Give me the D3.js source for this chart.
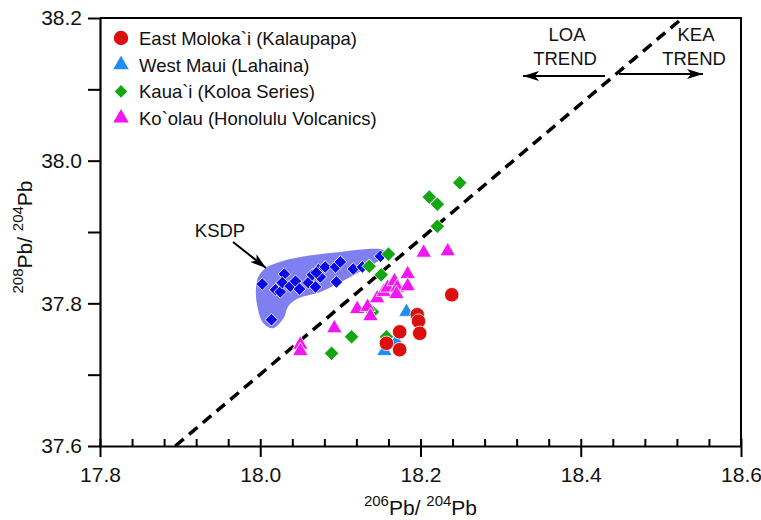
<!DOCTYPE html>
<html>
<head>
<meta charset="utf-8">
<script src="https://cdn.jsdelivr.net/npm/d3@7"></script>
<style>
  body { margin: 0; background: #fff; }
  svg text { font-family: "Liberation Sans", Arial, sans-serif; fill: #111; }
</style>
</head>
<body>
<div id="chart"></div>
<script>
// series: [206Pb/204Pb, 208Pb/204Pb]
const ksdp = [
    [18.0025, 37.827], [18.014, 37.777], [18.019, 37.819], [18.025, 37.816], [18.030, 37.841],
    [18.0275, 37.829], [18.0375, 37.824], [18.044, 37.831], [18.049, 37.820], [18.060, 37.829],
    [18.065, 37.840], [18.069, 37.823], [18.0725, 37.847], [18.075, 37.837], [18.070, 37.843],
    [18.081, 37.851], [18.095, 37.830], [18.094, 37.851], [18.100, 37.858], [18.116, 37.848],
    [18.1275, 37.851], [18.150, 37.866]
];
const ksdpField = [
    [17.999, 37.840], [18.0075, 37.850], [18.0375, 37.862], [18.069, 37.868], [18.100, 37.872],
    [18.134, 37.876], [18.1525, 37.875], [18.1575, 37.869], [18.150, 37.861], [18.1125, 37.837],
    [18.075, 37.816], [18.0475, 37.807], [18.035, 37.796], [18.029, 37.779], [18.016, 37.765],
    [18.004, 37.772], [17.996, 37.798], [17.995, 37.826]
];
const eastMolokai = [
    [18.239, 37.812], [18.196, 37.784], [18.1975, 37.775], [18.199, 37.758],
    [18.174, 37.760], [18.174, 37.735], [18.1575, 37.744]
];
const westMaui = [[18.1825, 37.788], [18.170, 37.746], [18.155, 37.733]];
const kauai = [
    [18.089, 37.730], [18.114, 37.753], [18.1575, 37.753], [18.140, 37.788], [18.136, 37.852],
    [18.151, 37.840], [18.160, 37.869], [18.221, 37.908], [18.211, 37.949], [18.221, 37.939],
    [18.249, 37.969]
];
const koolau = [
    [18.050, 37.742], [18.050, 37.733], [18.0925, 37.765], [18.121, 37.792], [18.134, 37.795],
    [18.1375, 37.782], [18.146, 37.807], [18.154, 37.816], [18.159, 37.822], [18.1675, 37.831],
    [18.171, 37.822], [18.170, 37.813], [18.184, 37.841], [18.184, 37.824], [18.204, 37.871],
    [18.234, 37.873]
];
const trendLine = [[17.894, 37.6], [18.527, 38.2]];
const xTicks = [17.8, 18.0, 18.2, 18.4, 18.6];
const yTicks = [37.6, 37.8, 38.0, 38.2];
const legendNames = ["East Moloka`i (Kalaupapa)", "West Maui (Lahaina)", "Kaua`i (Koloa Series)", "Ko`olau (Honolulu Volcanics)"];

const W = 761, H = 520;
const margin = {top: 18, right: 20, bottom: 74, left: 100};
const width = W - margin.left - margin.right,
    height = H - margin.top - margin.bottom;

const x = d3.scaleLinear().domain([17.8, 18.6]).range([0, width]);
const y = d3.scaleLinear().domain([37.6, 38.2]).range([height, 0]);

const svg = d3.select("#chart").append("svg")
    .attr("width", W).attr("height", H);
const g = svg.append("g")
    .attr("transform", "translate(" + margin.left + "," + margin.top + ")");

// KSDP field
g.append("path")
    .datum(ksdpField)
    .attr("d", d3.line().x(d => x(d[0])).y(d => y(d[1])).curve(d3.curveCatmullRomClosed.alpha(0.5)))
    .attr("fill", "#7f7ff1");

// trend line
g.append("path")
    .datum(trendLine)
    .attr("d", d3.line().x(d => x(d[0])).y(d => y(d[1])))
    .attr("stroke", "#000").attr("stroke-width", 3.5)
    .attr("stroke-dasharray", "11,7").attr("fill", "none");

// symbols
const diamond = d3.symbol().type(d3.symbolSquare).size(80)();
const bigDiamond = d3.symbol().type(d3.symbolSquare).size(105)();
const tri = d3.symbol().type(d3.symbolTriangle).size(105)();
const circ = d3.symbol().type(d3.symbolCircle).size(165)();

function plot(data, path, color, rot) {
    g.append("g").selectAll("path")
        .data(data)
        .enter().append("path")
        .attr("d", path)
        .attr("transform", d => "translate(" + x(d[0]) + "," + y(d[1]) + ")" + (rot ? " rotate(45)" : ""))
        .attr("fill", color)
        .attr("stroke", "#fff").attr("stroke-width", 0.8);
}
plot(ksdp, diamond, "#0a0ae6", true);
plot(kauai, bigDiamond, "#13a813", true);
plot(koolau, tri, "#f216f2", false);
plot(westMaui, tri, "#1e8ff0", false);
plot(eastMolokai, circ, "#dc0f0f", false);

// axes
const xAxis = g.append("g")
    .attr("transform", "translate(0," + height + ")")
    .call(d3.axisBottom(x).tickValues(xTicks).tickFormat(d3.format(".1f")).tickSizeInner(11).tickSizeOuter(0).tickPadding(10));
xAxis.selectAll("text").attr("font-size", 21);
g.append("g")
    .attr("transform", "translate(0," + height + ")")
    .call(d3.axisBottom(x).tickValues(d3.range(17.8, 18.61, 0.04)).tickFormat("").tickSize(-7).tickSizeOuter(0))
    .select(".domain").remove();

const yAxis = g.append("g")
    .call(d3.axisLeft(y).tickValues(d3.range(37.6, 38.21, 0.1)).tickFormat(d => yTicks.some(t => Math.abs(t - d) < 1e-6) ? d3.format(".1f")(d) : "")
        .tickSizeInner(12).tickSizeOuter(0).tickPadding(6));
yAxis.selectAll("text").attr("font-size", 21);

g.selectAll(".domain").attr("stroke-width", 2.2);
g.selectAll(".tick line").attr("stroke-width", 2);

// frame top / right
g.append("path")
    .attr("d", "M0,0H" + width + "V" + height)
    .attr("fill", "none").attr("stroke", "#000").attr("stroke-width", 2);

// axis titles
const xt = svg.append("text")
    .attr("x", margin.left + x(18.2)).attr("y", 515)
    .attr("text-anchor", "middle").attr("font-size", 21);
xt.append("tspan").text("206").attr("font-size", 15).attr("dy", -9);
xt.append("tspan").text("Pb/ ").attr("dy", 9);
xt.append("tspan").text("204").attr("font-size", 15).attr("dy", -9);
xt.append("tspan").text("Pb").attr("dy", 9);

const yt = svg.append("text")
    .attr("transform", "translate(32," + (margin.top + y(37.893)) + ") rotate(-90)")
    .attr("text-anchor", "middle").attr("font-size", 21);
yt.append("tspan").text("208").attr("font-size", 15).attr("dy", -9);
yt.append("tspan").text("Pb/ ").attr("dy", 9);
yt.append("tspan").text("204").attr("font-size", 15).attr("dy", -9);
yt.append("tspan").text("Pb").attr("dy", 9);

// legend
const legendShapes = [[circ, "#dc0f0f", false], [tri, "#1e8ff0", false], [diamond, "#13a813", true], [tri, "#f216f2", false]];
const leg = svg.append("g").attr("transform", "translate(121,38)");
legendNames.forEach((name, i) => {
    const row = leg.append("g").attr("transform", "translate(0," + i * 26.7 + ")");
    row.append("path").attr("d", legendShapes[i][0]).attr("fill", legendShapes[i][1])
        .attr("transform", legendShapes[i][2] ? "rotate(45)" : null);
    row.append("text").attr("x", 18).attr("y", 7).attr("font-size", 18.5).text(name);
});

// annotations
svg.append("defs").append("marker")
    .attr("id", "head").attr("viewBox", "0 0 16 10")
    .attr("refX", 16).attr("refY", 5)
    .attr("markerWidth", 16).attr("markerHeight", 10)
    .attr("markerUnits", "userSpaceOnUse").attr("orient", "auto")
    .append("path").attr("d", "M0,0L16,5L0,10L4,5Z").attr("fill", "#000");

const ann = svg.append("g").attr("font-size", 18.5);
ann.append("text").attr("x", 567).attr("y", 41).attr("text-anchor", "middle").text("LOA");
ann.append("text").attr("x", 565).attr("y", 65).attr("text-anchor", "middle").text("TREND");
ann.append("text").attr("x", 696).attr("y", 41).attr("text-anchor", "middle").text("KEA");
ann.append("text").attr("x", 694).attr("y", 65).attr("text-anchor", "middle").text("TREND");
ann.append("text").attr("x", 220).attr("y", 237).attr("text-anchor", "middle").text("KSDP");

ann.append("line").attr("x1", 605).attr("y1", 76).attr("x2", 523).attr("y2", 76)
    .attr("stroke", "#000").attr("stroke-width", 2).attr("marker-end", "url(#head)");
ann.append("line").attr("x1", 619).attr("y1", 74).attr("x2", 703).attr("y2", 74)
    .attr("stroke", "#000").attr("stroke-width", 2).attr("marker-end", "url(#head)");
ann.append("line").attr("x1", 233).attr("y1", 242).attr("x2", 266).attr("y2", 268)
    .attr("stroke", "#000").attr("stroke-width", 2).attr("marker-end", "url(#head)");
</script>
</body>
</html>
